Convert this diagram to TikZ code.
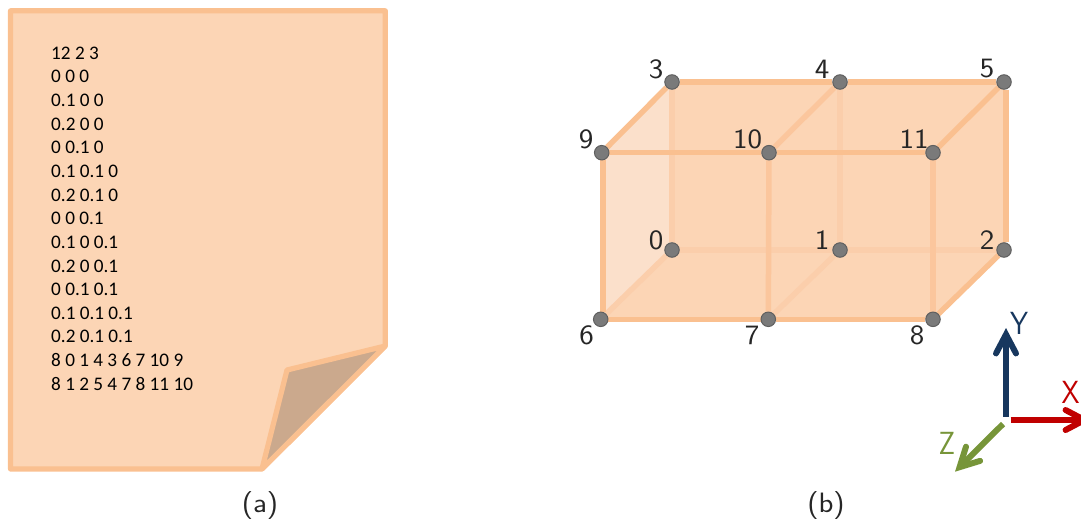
\documentclass[tikz,border=0pt]{standalone}
\usepackage{fontspec}
\setmainfont{Carlito}
\newfontfamily\labf[FakeStretch=1.1]{Latin Modern Sans}
\newfontfamily\axf[FakeStretch=0.9]{Latin Modern Sans}
\usetikzlibrary{arrows.meta,backgrounds}
\definecolor{edgeor}{HTML}{FAC090}
\definecolor{edgein}{HTML}{FBC69D}
\definecolor{edgeback}{HTML}{FBCEAB}
\definecolor{pagefill}{HTML}{FCD5B5}
\definecolor{foldfill}{HTML}{CBA98D}
\definecolor{lightface}{HTML}{FBE0CB}
\definecolor{ptfill}{HTML}{7A7A7A}
\definecolor{ptline}{HTML}{5F5F5F}
\definecolor{ynavy}{HTML}{17375E}
\definecolor{xred}{HTML}{C00000}
\definecolor{zgreen}{HTML}{779539}
\definecolor{labelc}{HTML}{262626}
\tikzset{
  x=1pt,y=-1pt,
  paper/.style={draw=edgeor,line width=5.2pt,line join=round},
  pt/.style={circle,draw=ptline,fill=ptfill,line width=1pt,minimum size=14.5pt,inner sep=0pt},
  lab/.style={font=\labf\fontsize{28}{30}\selectfont,text=labelc,inner sep=0pt},
  captext/.style={font=\labf\fontsize{28}{30}\selectfont,text=labelc,inner sep=0pt},
  outer/.style={draw=edgeor,line width=5.5pt},
  mid/.style={draw=edgein,line width=5.5pt},
  back/.style={draw=edgeback,line width=5.5pt},
  axis/.style={line width=6pt,-{Straight Barb[length=19pt,width=20pt,line cap=round,line join=miter,line width=6pt]}},
  axlab/.style={font=\axf\fontsize{32}{34}\selectfont,inner sep=0pt},
}
\begin{document}
\begin{tikzpicture}
\useasboundingbox (0,0) rectangle (1081,522);
% sheet
\path[paper,fill=pagefill] (10.5,10.8) -- (385.3,10.8) -- (385.3,346) -- (262,469) -- (10.5,469) -- cycle;
\path[paper,fill=foldfill] (385.3,346) -- (287,370) -- (262,469) -- cycle;
\node[anchor=north west,align=left,inner sep=0pt,font=\fontsize{19.2}{23.65}\selectfont,text=black] (listing) at (51,46.5) {12 2 3\\0 0 0\\0.1 0 0\\0.2 0 0\\0 0.1 0\\0.1 0.1 0\\0.2 0.1 0\\0 0 0.1\\0.1 0 0.1\\0.2 0 0.1\\0 0.1 0.1\\0.1 0.1 0.1\\0.2 0.1 0.1\\8 0 1 4 3 6 7 10 9\\8 1 2 5 4 7 8 11 10};
\node[captext] (capa) at (260,506) {(a)};
\node[captext] (capb) at (826,506) {(b)};
% vertices
\node[pt] (n3) at (672,82) {};
\node[pt] (n4) at (840,82) {};
\node[pt] (n5) at (1004,82) {};
\node[pt] (n9) at (601.7,152.7) {};
\node[pt] (n10) at (769,152.7) {};
\node[pt] (n11) at (933,152.7) {};
\node[pt] (n0) at (672,250) {};
\node[pt] (n1) at (840,250) {};
\node[pt] (n2) at (1004,250) {};
\node[pt] (n6) at (600.7,319.3) {};
\node[pt] (n7) at (768.3,319.3) {};
\node[pt] (n8) at (933,319.3) {};
\begin{pgfonlayer}{background}
\fill[lightface] (n9.center) -- (n3.center) -- (n0.center) -- (n6.center) -- cycle;
\fill[pagefill] (n3.center) -- (n5.center) -- ([xshift=2pt]n2.center) -- (n8.center) -- (n6.center) -- (n0.center) -- cycle;
\draw[back] (n3) -- (n0);
\draw[back] (n0) -- (n1);
\draw[back] (n1) -- (n2);
\draw[back] (n0) -- (n6);
\draw[back] (n4) -- (n1);
\draw[back] (n1) -- (n7);
\draw[mid] (n10) -- (n7);
\draw[mid] (n11) -- (n8);
\draw[mid] (n10) -- (n4);
\draw[outer] (n3) -- (n4);
\draw[outer] (n4) -- (n5);
\draw[outer] (n9) -- (n10);
\draw[outer] (n10) -- (n11);
\draw[outer] (n6) -- (n7);
\draw[outer] (n7) -- (n8);
\draw[outer] (n9) -- (n3);
\draw[outer] ([xshift=1.3pt]n9.south) -- ([xshift=2.3pt]n6.north);
\draw[outer] (n11) -- (n5);
\draw[outer] ([xshift=2pt]n5.south) -- ([xshift=2pt]n2.north);
\draw[outer] (n8) -- (n2);
\end{pgfonlayer}
% vertex labels
\node[lab] (l3) at (656,69) {3};
\node[lab] (l4) at (822,69) {4};
\node[lab] (l5) at (987,69) {5};
\node[lab] (l9) at (586,139) {9};
\node[lab] (l10) at (747.7,139) {10};
\node[lab] (l11) at (914,139) {11};
\node[lab] (l0) at (656,240) {0};
\node[lab] (l1) at (822,240) {1};
\node[lab] (l2) at (987,240) {2};
\node[lab] (l6) at (586.7,335) {6};
\node[lab] (l7) at (752,335) {7};
\node[lab] (l8) at (917,335) {8};
% axes
\coordinate (oy) at (1006,416.7);
\coordinate (ty) at (1006,328);
\coordinate (ox) at (1010.7,420);
\coordinate (tx) at (1091,420);
\coordinate (oz) at (1003,424);
\coordinate (tz) at (955,471.7);
\draw[axis,draw=ynavy] (oy) -- (ty);
\draw[axis,draw=xred] (ox) -- (tx);
\draw[axis,draw=zgreen] (oz) -- (tz);
\node[axlab,text=ynavy] (ly) at (1019,323) {Y};
\node[axlab,text=xred] (lx) at (1070.7,392) {X};
\node[axlab,text=zgreen] (lz) at (947,443) {Z};
\end{tikzpicture}
\end{document}
